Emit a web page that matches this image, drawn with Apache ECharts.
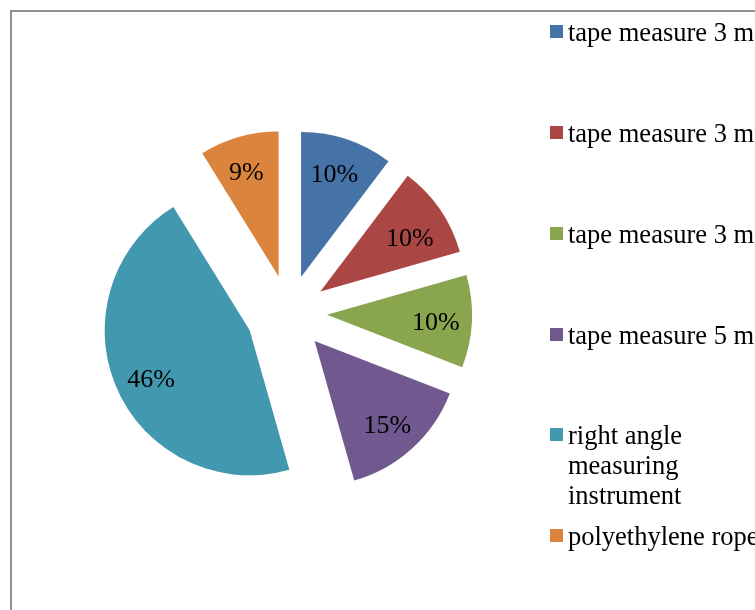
<!DOCTYPE html>
<html>
<head>
<meta charset="utf-8">
<script src="https://cdn.jsdelivr.net/npm/echarts@6/dist/echarts.min.js"></script>
<style>
  html, body { margin: 0; padding: 0; background: #fff; }
  #chart { width: 755px; height: 610px; }
</style>
</head>
<body>
<div id="chart"></div>
<script>
const categories = ['tape measure 3 m', 'tape measure 3 m', 'tape measure 3 m', 'tape measure 5 m', 'right angle measuring instrument', 'polyethylene rope'];
const legendLines = [['tape measure 3 m'], ['tape measure 3 m'], ['tape measure 3 m'], ['tape measure 5 m'], ['right angle', 'measuring', 'instrument'], ['polyethylene rope']];
const values = [7, 7, 7, 10, 31, 6];
const colors = ['#4572A7', '#AA4643', '#89A54E', '#71588F', '#4198AF', '#DB843D'];

// unique internal keys (three categories share the same visible label)
const keys = categories.map((c, i) => c + ' [' + (i + 1) + ']');
const markerTops = [25, 126, 227, 328, 428, 529];
const FONT = 'Liberation Serif';
const FS = 26.5;
const LH = 30;
const BIG = 4; // index of the slice exploded further
const SQ = 13;

const legends = keys.map((k, i) => {
  const n = legendLines[i].length;
  // marker square on top; an invisible speck below stretches the icon box so that
  // the (vertically centred) text's first line sits level with the square
  const ih = SQ + 6 + (n - 1) * LH;
  const icon = 'path://M0,0h' + SQ + 'v' + SQ + 'h-' + SQ + 'z M0,' + (ih - 0.001) + 'h0.001v0.001h-0.001z';
  return {
    data: [{ name: k, itemStyle: { color: colors[i] } }],
    orient: 'vertical',
    left: 550,
    top: markerTops[i] - (LH * n / 2 - ih / 2),
    padding: 0,
    icon: icon,
    itemWidth: SQ,
    itemHeight: ih,
    selectedMode: false,
    itemStyle: { color: colors[i] },
    formatter: () => legendLines[i].join('\n'),
    textStyle: { fontFamily: FONT, fontSize: FS, color: '#000', lineHeight: LH }
  };
});

const T = 'rgba(0,0,0,0)';
function pieBase(offset, radius) {
  return {
    type: 'pie',
    center: [289, 313],
    radius: radius,
    startAngle: 90,
    clockwise: true,
    selectedMode: 'multiple',
    selectedOffset: offset,
    avoidLabelOverlap: false,
    percentPrecision: 0,
    legendHoverLink: false,
    emphasis: { disabled: true },
    labelLine: { show: false }
  };
}
function slices(visibleFn) {
  return values.map((v, i) => {
    const c = visibleFn(i) ? colors[i] : T;
    return { name: keys[i], value: v, selected: true,
      itemStyle: { color: c, borderWidth: 0 },
      select: { itemStyle: { color: c, borderWidth: 0 } } };
  });
}
const labelStyle = {
  show: true, position: 'inside', formatter: '{d}%',
  fontFamily: FONT, fontSize: 26, color: '#000'
};
function labelData(visibleFn) {
  return values.map((v, i) => ({
    name: keys[i], value: v, selected: true,
    itemStyle: { color: T, borderWidth: 0 },
    select: { itemStyle: { color: T, borderWidth: 0 } },
    label: visibleFn(i) ? {} : { show: false }
  }));
}
const labelNudge = (p) => ({ dx: p.dataIndex === 4 ? 3 : -2, dy: p.dataIndex === 1 ? 10 : (p.dataIndex === 4 ? 5 : 3) });

const chart = echarts.init(document.getElementById('chart'), null, { renderer: 'canvas' });
chart.setOption({
  animation: false,
  backgroundColor: '#ffffff',
  legend: legends,
  graphic: [{
    type: 'rect', z: -10, silent: true,
    shape: { x: 11, y: 11, width: 1000, height: 1000 },
    style: { fill: 'none', stroke: '#8e8e8e', lineWidth: 2 }
  }],
  series: [
    Object.assign(pieBase(38, 145), { label: { show: false }, data: slices(i => i !== BIG) }),
    Object.assign(pieBase(43, 145), { label: { show: false }, data: slices(i => i === BIG) }),
    Object.assign(pieBase(38, 216), { silent: true, label: labelStyle, labelLayout: labelNudge,
      data: labelData(i => i !== BIG) }),
    Object.assign(pieBase(43, 216), { silent: true, label: labelStyle, labelLayout: labelNudge,
      data: labelData(i => i === BIG) })
  ]
});
</script>
</body>
</html>
